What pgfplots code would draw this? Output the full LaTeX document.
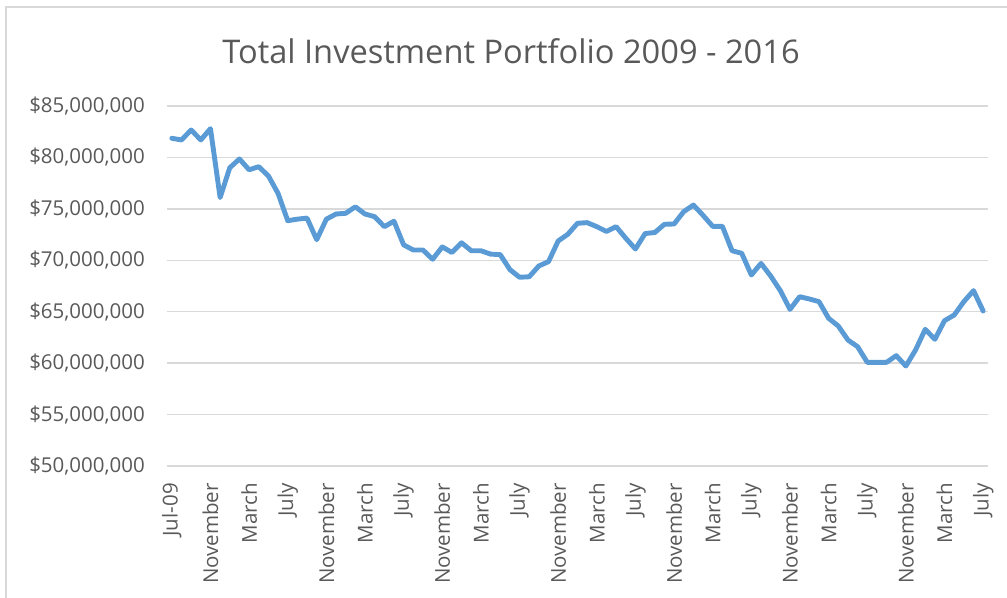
\documentclass[border=0pt]{standalone}
\usepackage{pgfplots}
\pgfplotsset{compat=1.18}
\usepackage{fontspec}
\setmainfont{Open Sans}
\definecolor{textgray}{HTML}{595959}
\definecolor{gridgray}{HTML}{D9D9D9}
\definecolor{lineblue}{HTML}{5B9BD5}
\begin{document}
\begin{tikzpicture}
\useasboundingbox (0bp,0bp) rectangle (1007bp,-598bp);
\draw[gridgray, line width=1.3bp] (6bp,-598bp) -- (6bp,-7bp) -- (1007bp,-7bp);
\node[anchor=base, text=textgray, font=\fontsize{32.6bp}{38bp}\selectfont, inner sep=0pt] at (511bp,-63bp) {Total Investment Portfolio 2009 - 2016};
\begin{axis}[
  at={(167bp,-466bp)}, anchor=south west,
  scale only axis, width=821bp, height=360bp,
  xmin=-0.5, xmax=84.5, ymin=50, ymax=85,
  axis line style={draw=none},
  major tick length=0pt,
  ymajorgrids, grid style={gridgray, line width=1.3bp},
  ytick={50,55,...,85},
  yticklabels={{\$50,000,000},{\$55,000,000},{\$60,000,000},{\$65,000,000},{\$70,000,000},{\$75,000,000},{\$80,000,000},{\$85,000,000}},
  xtick={0,4,...,84},
  xticklabels={Jul-09,November,March,July,November,March,July,November,March,July,November,March,July,November,March,July,November,March,July,November,March,July},
  ticklabel style={text=textgray, font=\fontsize{20.5bp}{24bp}\selectfont},
  xticklabel style={rotate=90, anchor=east, inner sep=0pt, xshift=-17bp},
  yticklabel style={anchor=east, inner sep=0pt, xshift=-22bp},
  clip=false,
]
\addplot[lineblue, line width=4.9bp, line join=round, line cap=round] coordinates {
(0,81.86)(1,81.7)(2,82.67)(3,81.7)(4,82.8)(5,76.1)(6,79.0)(7,79.85)(8,78.8)(9,79.1)
(10,78.2)(11,76.5)(12,73.85)(13,74.0)(14,74.1)(15,72.0)(16,74.0)(17,74.5)(18,74.57)(19,75.2)
(20,74.5)(21,74.24)(22,73.27)(23,73.8)(24,71.5)(25,71.0)(26,71.0)(27,70.1)(28,71.3)(29,70.76)
(30,71.7)(31,70.93)(32,70.93)(33,70.6)(34,70.55)(35,69.1)(36,68.35)(37,68.4)(38,69.45)(39,69.87)
(40,71.88)(41,72.53)(42,73.6)(43,73.66)(44,73.27)(45,72.8)(46,73.27)(47,72.14)(48,71.1)(49,72.6)
(50,72.7)(51,73.5)(52,73.53)(53,74.73)(54,75.37)(55,74.37)(56,73.3)(57,73.3)(58,70.93)(59,70.68)
(60,68.57)(61,69.7)(62,68.47)(63,67.05)(64,65.23)(65,66.46)(66,66.24)(67,65.98)(68,64.36)(69,63.61)
(70,62.25)(71,61.6)(72,60.08)(73,60.08)(74,60.08)(75,60.73)(76,59.72)(77,61.28)(78,63.29)(79,62.32)
(80,64.13)(81,64.68)(82,65.98)(83,67.05)(84,65.07)
};
\end{axis}
\end{tikzpicture}
\end{document}
